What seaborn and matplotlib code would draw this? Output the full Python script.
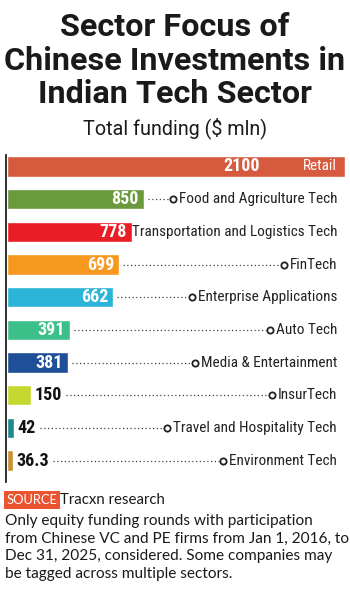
import pandas as pd
import seaborn as sns
import matplotlib.pyplot as plt
from matplotlib import font_manager

sectors = ['Retail', 'Food and Agriculture Tech', 'Transportation and Logistics Tech',
           'FinTech', 'Enterprise Applications', 'Auto Tech', 'Media & Entertainment',
           'InsurTech', 'Travel and Hospitality Tech', 'Environment Tech']
funding = [2100, 850, 778, 699, 662, 391, 381, 150, 42, 36.3]
value_labels = ['2100', '850', '778', '699', '662', '391', '381', '150', '42', '36.3']
bar_colors = ['#d65a3d', '#6a9a3c', '#ea1d26', '#f7981e', '#29b4d8', '#3dbf89',
              '#1e4f98', '#c5d82f', '#1d8a8c', '#c89231']

df = pd.DataFrame({'sector': sectors, 'funding': funding})

sns.set_style('white')
names = {f.name for f in font_manager.fontManager.ttflist}
if 'Roboto Condensed' in names:
    narrow = dict(family='Roboto Condensed')
elif 'Liberation Sans Narrow' in names:
    narrow = dict(family='Liberation Sans Narrow')
else:
    narrow = dict(family='DejaVu Sans', stretch='condensed')
plt.rcParams['font.family'] = ['Roboto', 'DejaVu Sans']

W, H = 350, 591
fig = plt.figure(figsize=(W / 100, H / 100), dpi=100)


def fy(py):
    return 1 - py / H


# axes placed in pixel terms
ax = fig.add_axes([5.5 / W, fy(482), (345 - 5.5) / W, 327 / H])
sns.barplot(data=df, x='funding', y='sector', hue='sector', palette=bar_colors,
            legend=False, orient='h', width=0.62, saturation=1, ax=ax)
ax.set_xlim(-8, 2100)
ax.set_ylim(9.658, -0.352)
ax.set_xlabel('')
ax.set_ylabel('')
ax.set_xticks([])
ax.set_yticks([])
for s in ['top', 'right', 'bottom']:
    ax.spines[s].set_visible(False)
ax.spines['left'].set_color('#222222')
ax.spines['left'].set_linewidth(1.3)

txt = '#222222'
lab_size = 11
fig.canvas.draw()
r = fig.canvas.get_renderer()
inv = ax.transData.inverted()
px = ax.transData.transform((1, 0))[0] - ax.transData.transform((0, 0))[0]

for i, (name, val, lab) in enumerate(zip(sectors, funding, value_labels)):
    if i == 0:
        t_lab = ax.text(2100 - 8 / px, i, name, ha='right', va='center', color='white',
                        fontsize=lab_size, **narrow)
        bb = t_lab.get_window_extent(r)
        xv = inv.transform((bb.x0 - 43, 0))[0]
        ax.text(xv, i, lab, ha='right', va='center', color='white', fontsize=13,
                fontweight='bold', **narrow)
        continue
    t_lab = ax.text(2100 - 8 / px, i, name, ha='right', va='center', color=txt,
                    fontsize=lab_size, **narrow)
    inside = val > 300
    if inside:
        t_val = ax.text(val - 5 / px, i, lab, ha='right', va='center', color='white',
                        fontsize=13, fontweight='bold', **narrow)
        start = val + 4 / px
    else:
        t_val = ax.text(val + 4 / px, i, lab, ha='left', va='center', color='#111111',
                        fontsize=13, fontweight='bold', **narrow)
        start = inv.transform((t_val.get_window_extent(r).x1 + 4, 0))[0]
    bb = t_lab.get_window_extent(r)
    circ = inv.transform((bb.x0 - 6, 0))[0]
    end = inv.transform((bb.x0 - 10, 0))[0]
    if end - start > 6 / px:
        ax.plot([start, end], [i, i], linestyle=(0, (1, 2)), color='#444444', lw=0.9)
        ax.plot([circ], [i], marker='o', ms=4.5, mfc='white', mec='#222222', mew=1.3)

# titles
for line, yy in [('Sector Focus of', 27), ('Chinese Investments in', 61),
                 ('Indian Tech Sector', 94)]:
    fig.text(0.5, fy(yy), line, ha='center', va='center', fontsize=23.3,
             fontweight='bold', color='#1a1a1a')
fig.text(0.5, fy(128), 'Total funding ($ mln)', ha='center', va='center', fontsize=14.2,
         color='#1a1a1a')

# footer
fig.text(7 / W, fy(500), 'SOURCE', ha='left', va='center', fontsize=9.3, color='white',
         family='Lato', bbox=dict(boxstyle='square,pad=0.2', fc='#ea5430', ec='none'))
fig.text(60 / W, fy(500), 'Tracxn research', ha='left', va='center', fontsize=10.8,
         color='#1a1a1a', family='Lato')
fig.text(5 / W, fy(514), 'Only equity funding rounds with participation\n'
         'from Chinese VC and PE firms from Jan 1, 2016, to\n'
         'Dec 31, 2025, considered. Some companies may\n'
         'be tagged across multiple sectors.', ha='left', va='top', fontsize=11.1,
         color='#1a1a1a', linespacing=1.33, family='Lato')

fig.savefig('out.png', dpi=100)
